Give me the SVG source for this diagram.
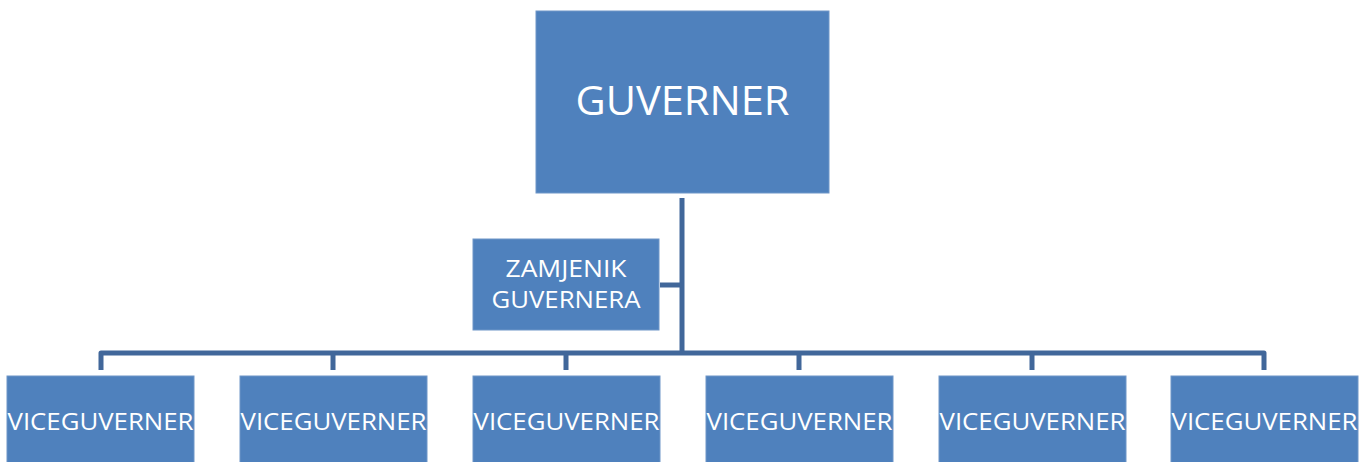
<svg xmlns="http://www.w3.org/2000/svg" width="1365" height="462" viewBox="0 0 1365 462">
<style>
.box{fill:#4F81BD;stroke:#6F96C8;stroke-width:1}
.t{fill:#FFFFFF;font-family:"Open Sans","Liberation Sans",sans-serif;text-anchor:middle}
.c{fill:none;stroke:#41679A;stroke-width:5;stroke-linejoin:round}
</style>
<rect width="1365" height="462" fill="#FFFFFF"/>
<g id="connectors">
<path class="c" d="M682 198 V353"/>
<path class="c" d="M660 285 H682"/>
<path class="c" d="M101 370 V353 H1264 V370"/>
<path class="c" d="M333 353 V370 M566 353 V370 M799 353 V370 M1032 353 V370"/>
</g>
<g id="guverner">
<rect class="box" x="536" y="11" width="293" height="182"/>
<text class="t" x="682.5" y="115" font-size="41" textLength="214" lengthAdjust="spacingAndGlyphs">GUVERNER</text>
</g>
<g id="zamjenik">
<rect class="box" x="473" y="239" width="186" height="91"/>
<text class="t" x="566" y="277" font-size="24" textLength="121" lengthAdjust="spacingAndGlyphs">ZAMJENIK</text>
<text class="t" x="566" y="308" font-size="24" textLength="149" lengthAdjust="spacingAndGlyphs">GUVERNERA</text>
</g>
<g id="vice1"><rect class="box" x="7" y="376" width="187" height="90"/><text class="t" x="100.5" y="430" font-size="24" textLength="186" lengthAdjust="spacingAndGlyphs">VICEGUVERNER</text></g>
<g id="vice2"><rect class="box" x="240" y="376" width="187" height="90"/><text class="t" x="333.5" y="430" font-size="24" textLength="186" lengthAdjust="spacingAndGlyphs">VICEGUVERNER</text></g>
<g id="vice3"><rect class="box" x="473" y="376" width="187" height="90"/><text class="t" x="566.5" y="430" font-size="24" textLength="186" lengthAdjust="spacingAndGlyphs">VICEGUVERNER</text></g>
<g id="vice4"><rect class="box" x="706" y="376" width="187" height="90"/><text class="t" x="799.5" y="430" font-size="24" textLength="186" lengthAdjust="spacingAndGlyphs">VICEGUVERNER</text></g>
<g id="vice5"><rect class="box" x="939" y="376" width="187" height="90"/><text class="t" x="1032.5" y="430" font-size="24" textLength="186" lengthAdjust="spacingAndGlyphs">VICEGUVERNER</text></g>
<g id="vice6"><rect class="box" x="1171" y="376" width="187" height="90"/><text class="t" x="1264.5" y="430" font-size="24" textLength="186" lengthAdjust="spacingAndGlyphs">VICEGUVERNER</text></g>
</svg>
